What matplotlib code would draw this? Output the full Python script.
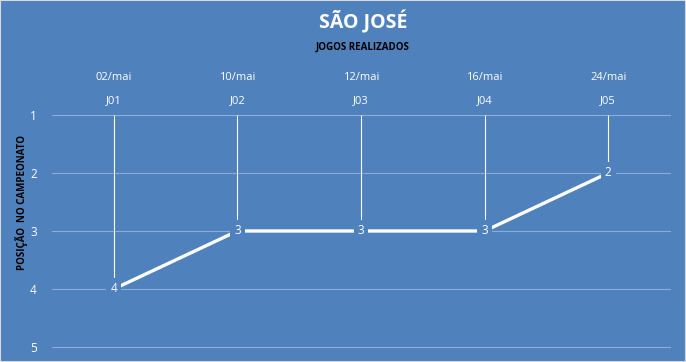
import matplotlib
matplotlib.use("Agg")
import matplotlib.pyplot as plt
from matplotlib.patches import Rectangle

plt.rcParams['font.family'] = ['Open Sans', 'DejaVu Sans']

games = ["J01", "J02", "J03", "J04", "J05"]
dates = ["02/mai", "10/mai", "12/mai", "16/mai", "24/mai"]
positions = [4, 3, 3, 3, 2]
y_ticks = [1, 2, 3, 4, 5]

BG = "#4F81BD"
W, H = 686, 362
fig = plt.figure(figsize=(W / 100, H / 100), dpi=100, facecolor=BG)
fig.patches.append(Rectangle((0, 0), 1, 1, transform=fig.transFigure, fill=False,
                             edgecolor="#D9D9D9", linewidth=1.5))

ax = fig.add_axes([52 / W, 1 - 347 / H, (670 - 52) / W, (347 - 115) / H])
ax.set_facecolor(BG)
for s in ax.spines.values():
    s.set_visible(False)

x = list(range(len(games)))
ax.set_xlim(-0.5, len(games) - 0.5)
ax.set_ylim(5, 1)

for yv in y_ticks:
    ax.axhline(yv, color="#8EADD6", linewidth=0.8, zorder=1, clip_on=False)

ax.vlines(x, [1] * len(x), positions, color="white", linewidth=0.8, zorder=2)
ax.plot(x, positions, color="white", linewidth=2.4, zorder=3, solid_capstyle="butt")
for xi, p in zip(x, positions):
    ax.text(xi, p, str(p), color="white", fontsize=8.5, ha="center", va="center",
            zorder=4, bbox=dict(boxstyle="square,pad=0.35", facecolor=BG, edgecolor="none"))

ax.set_yticks(y_ticks)
ax.set_yticklabels([str(v) for v in y_ticks], color="white", fontsize=8.5)
ax.tick_params(axis="y", length=0, pad=11)

ax.xaxis.tick_top()
ax.set_xticks(x)
ax.set_xticklabels(games, color="white", fontsize=8)
ax.tick_params(axis="x", length=0, pad=6.5)

sec = ax.secondary_xaxis("top")
sec.set_xticks(x)
sec.set_xticklabels(dates, color="white", fontsize=8)
sec.tick_params(axis="x", length=0, pad=23)
for s in sec.spines.values():
    s.set_visible(False)

fig.text(363 / W, 1 - 22 / H, "SÃO JOSÉ", color="white", fontsize=14, fontweight="bold",
         ha="center", va="center")
fig.text(363 / W, 1 - 47 / H, "JOGOS REALIZADOS", color="black", fontsize=7, fontweight="bold",
         ha="center", va="center")
fig.text(22 / W, 1 - 203 / H, "POSIÇÃO  NO CAMPEONATO", color="black", fontsize=7,
         fontweight="bold", ha="center", va="center", rotation=90)

fig.savefig("out.png", dpi=100, facecolor=BG)
